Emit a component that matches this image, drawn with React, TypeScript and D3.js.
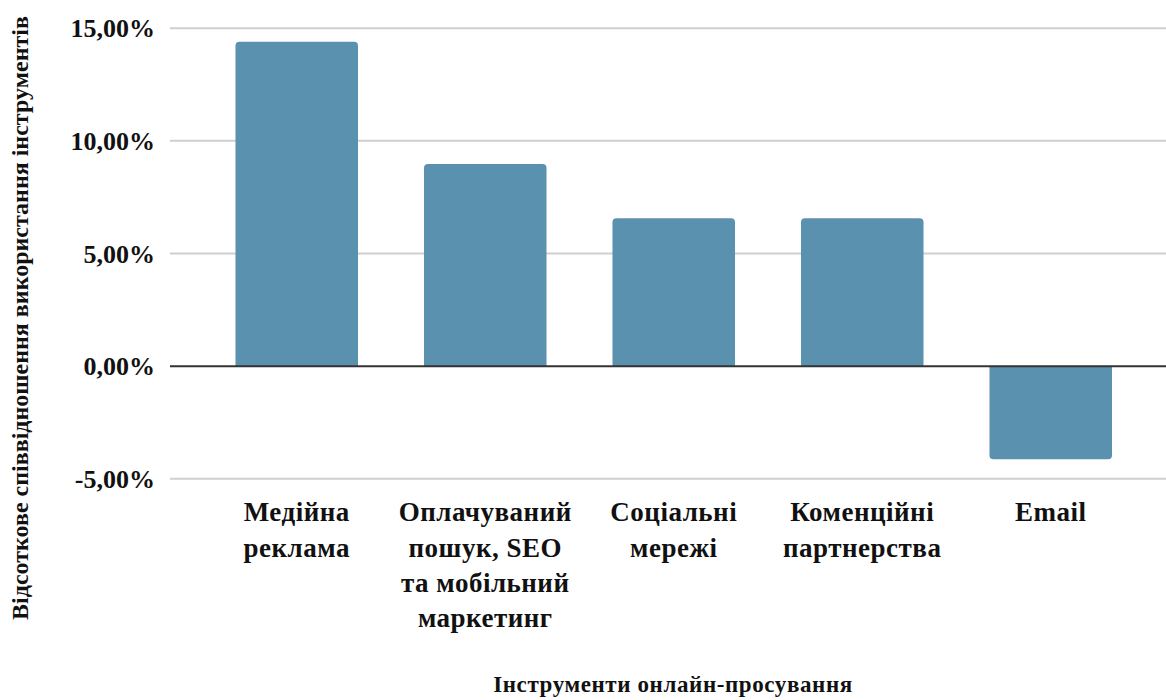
import React from "react";
import * as d3 from "d3";

const categories: string[][] = [
  ["Медійна", "реклама"],
  ["Оплачуваний", "пошук, SEO", "та мобільний", "маркетинг"],
  ["Соціальні", "мережі"],
  ["Коменційні", "партнерства"],
  ["Email"],
];
const values: number[] = [14.4, 8.97, 6.56, 6.56, -4.13];
const yTicks: number[] = [-5, 0, 5, 10, 15];
const yTitle = "Відсоткове співвідношення використання інструментів";
const xTitle = "Інструменти онлайн-просування";

const W = 1166;
const H = 700;
const plotTop = 28.2;
const plotBottom = 478.8;
const gridLeft = 170;

function barPath(x: number, w: number, y0: number, y1: number, r: number): string {
  // rounded corners only on the outer end of the bar
  if (y1 < y0) {
    return `M${x},${y0}V${y1 + r}Q${x},${y1} ${x + r},${y1}H${x + w - r}Q${x + w},${y1} ${x + w},${y1 + r}V${y0}Z`;
  }
  return `M${x},${y0}V${y1 - r}Q${x},${y1} ${x + r},${y1}H${x + w - r}Q${x + w},${y1} ${x + w},${y1 - r}V${y0}Z`;
}

export default function App() {
  const y = d3.scaleLinear().domain([-5, 15]).range([plotBottom, plotTop]);
  const x = d3
    .scaleBand<number>()
    .domain(d3.range(categories.length))
    .range([202.5, 1145])
    .paddingInner(0.35)
    .paddingOuter(0.175);
  const fmt = (v: number) =>
    d3.format(".2f")(v).replace("\u2212", "-").replace(".", ",") + "%";
  const font = { fontFamily: '"Liberation Serif", "Times New Roman", serif', fontWeight: 700 };

  return (
    <svg width={W} height={H} style={{ position: "absolute", left: 0, top: 0, background: "#fff" }}>
      {yTicks.map((t) => (
        <g key={t}>
          {t !== 0 && (
            <line x1={gridLeft} x2={W} y1={y(t)} y2={y(t)} stroke="#cfcfcf" strokeWidth={2} />
          )}
          <text x={155} y={y(t)} dy="0.35em" textAnchor="end" style={{ ...font, fontSize: 26 }} fill="#111">
            {fmt(t)}
          </text>
        </g>
      ))}
      {values.map((v, i) => (
        <path key={i} d={barPath(x(i)!, x.bandwidth(), y(0), y(v), 4)} fill="#5a91ae" />
      ))}
      <line x1={gridLeft} x2={W} y1={y(0)} y2={y(0)} stroke="#333" strokeWidth={2} />
      {categories.map((lines, i) => {
        const cx = x(i)! + x.bandwidth() / 2;
        return (
          <text
            key={i}
            textAnchor="middle"
            style={{ ...font, fontSize: 27, letterSpacing: 0.5 }}
            fill="#111"
          >
            {lines.map((l, j) => (
              <tspan key={j} x={cx} y={512 + j * 35.3} dy="0.35em">
                {l}
              </tspan>
            ))}
          </text>
        );
      })}
      <text
        transform={`translate(20,318) rotate(-90)`}
        textAnchor="middle"
        dy="0.35em"
        style={{ ...font, fontSize: 24 }}
        fill="#111"
      >
        {yTitle}
      </text>
      <text
        x={673}
        y={684}
        dy="0.35em"
        textAnchor="middle"
        style={{ ...font, fontSize: 23, letterSpacing: 0.6 }}
        fill="#111"
      >
        {xTitle}
      </text>
    </svg>
  );
}
